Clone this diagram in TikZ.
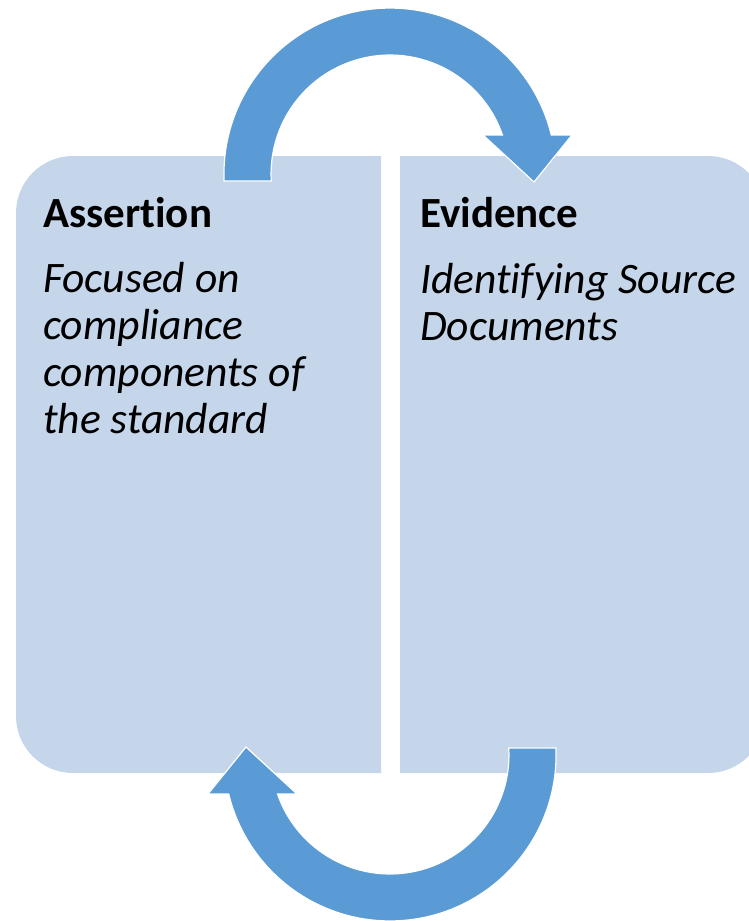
\documentclass[tikz,border=0pt]{standalone}
\usepackage{fontspec}
\setmainfont[Ligatures={NoCommon}]{Carlito}
\definecolor{boxfill}{HTML}{C5D5EA}
\definecolor{arrowfill}{HTML}{5B9BD5}
\tikzset{
  boxshape/.style={fill=boxfill, draw=none},
  arrowshape/.style={fill=arrowfill, draw=white, line width=1.2pt, line join=miter},
  titletext/.style={anchor=base west, inner sep=0pt, font=\fontsize{43}{46}\selectfont\bfseries},
  bodytext/.style={anchor=base west, inner sep=0pt, font=\fontsize{43.5}{47}\selectfont\itshape}
}
\begin{document}
\begin{tikzpicture}[x=1pt,y=-1pt]
\useasboundingbox (0,0) rectangle (749,921);
\clip (0,0) rectangle (749,921);
% boxes
\fill[boxshape] (381,156) -- (73,156) arc[start angle=270,end angle=180,radius=57]
  -- (16,716) arc[start angle=180,end angle=90,radius=57] -- (381,773) -- cycle;
\fill[boxshape] (400,156) -- (708,156) arc[start angle=270,end angle=360,radius=57]
  -- (765,716) arc[start angle=0,end angle=90,radius=57] -- (400,773) -- cycle;
% top arrow
\draw[arrowshape] (224.1,181) arc[start angle=177.6,end angle=346.4,radius=166]
  -- (572,135) -- (534,182) -- (483,135) -- (502.5,135.1)
  arc[start angle=340.9,end angle=176.6,radius=119] -- cycle;
% bottom arrow
\begin{scope}[rotate around={180:(390,464.5)}]
\draw[arrowshape] (224.1,181) arc[start angle=177.6,end angle=346.4,radius=166]
  -- (572,135) -- (534,182) -- (483,135) -- (502.5,135.1)
  arc[start angle=340.9,end angle=176.6,radius=119] -- cycle;
\end{scope}
% texts
\node[titletext] (t1) at (43,227) {Assertion};
\node[bodytext] (b1) at (43,292) {\begin{tabular}[t]{@{}l@{}}Focused on\\compliance\\components of\\the standard\end{tabular}};
\node[titletext] (t2) at (420,227) {Evidence};
\node[bodytext] (b2) at (420,293) {\begin{tabular}[t]{@{}l@{}}Identifying Source\\Documents\end{tabular}};
\end{tikzpicture}
\end{document}
